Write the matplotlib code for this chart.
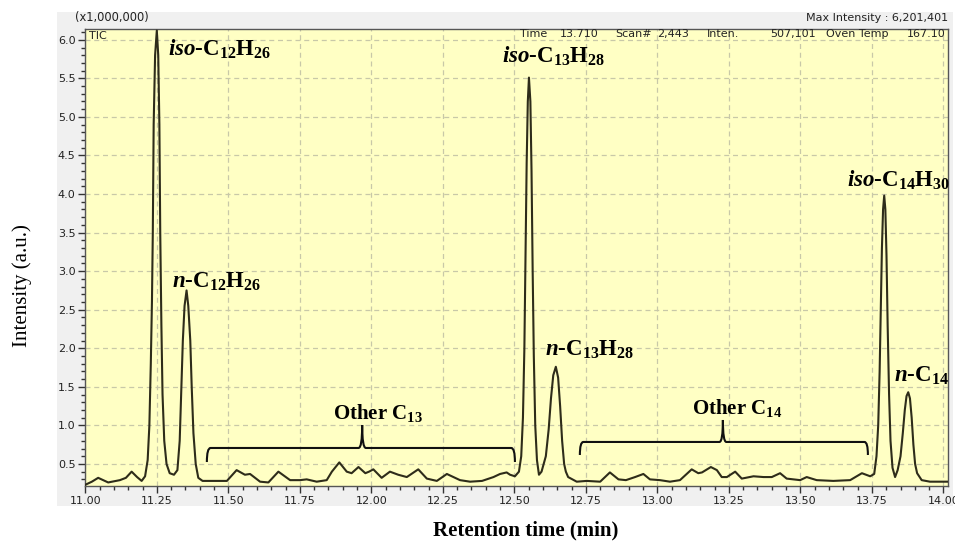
import matplotlib
matplotlib.use("Agg")
import matplotlib.pyplot as plt
from matplotlib.path import Path
from matplotlib.patches import PathPatch, Rectangle
from matplotlib.ticker import MultipleLocator, FixedLocator, FixedFormatter

plt.rcParams['mathtext.fontset'] = 'custom'
plt.rcParams['mathtext.rm'] = 'Liberation Serif:bold'
plt.rcParams['mathtext.bf'] = 'Liberation Serif:bold'
plt.rcParams['mathtext.it'] = 'Liberation Serif:italic:bold'

# ---- data (retention time in min, intensity x1e6) ----
time = [11.000, 11.023, 11.045, 11.080, 11.121, 11.142, 11.162, 11.181, 11.197, 11.209,
        11.218, 11.224, 11.229, 11.233, 11.236, 11.239, 11.244, 11.250, 11.255, 11.259,
        11.262, 11.266, 11.270, 11.276, 11.284, 11.295, 11.310, 11.322,
        11.330, 11.336, 11.341, 11.347, 11.354, 11.360, 11.367, 11.372, 11.378, 11.386,
        11.395, 11.410, 11.453, 11.495, 11.529, 11.558, 11.576, 11.611, 11.640, 11.675,
        11.716, 11.751, 11.774, 11.809, 11.844, 11.862, 11.888, 11.914, 11.931, 11.955,
        11.979, 11.992, 12.007, 12.036, 12.065, 12.094, 12.124, 12.164, 12.194, 12.229,
        12.264, 12.310, 12.345, 12.387, 12.427, 12.450, 12.473, 12.485, 12.502, 12.516,
        12.524, 12.530, 12.535, 12.539, 12.543, 12.547, 12.551, 12.556, 12.560, 12.564,
        12.568, 12.573, 12.579, 12.586, 12.595,
        12.610, 12.620, 12.628, 12.636, 12.645, 12.653, 12.660, 12.667, 12.674, 12.680,
        12.688, 12.718, 12.753, 12.800, 12.834, 12.864, 12.890, 12.922, 12.951, 12.974,
        13.009, 13.044, 13.079, 13.120, 13.143, 13.156, 13.187, 13.208, 13.225, 13.243,
        13.272, 13.295, 13.336, 13.371, 13.400, 13.429, 13.452, 13.499, 13.522, 13.557,
        13.615, 13.674, 13.715, 13.744, 13.758,
        13.766, 13.772, 13.777, 13.781, 13.785, 13.789, 13.793, 13.797, 13.801, 13.805,
        13.810, 13.815, 13.822, 13.831, 13.840,
        13.850, 13.858, 13.865, 13.871, 13.877, 13.883, 13.889, 13.895, 13.901, 13.908,
        13.924, 13.953, 14.016]
intensity = [0.23, 0.27, 0.32, 0.26, 0.29, 0.32, 0.40, 0.33, 0.28, 0.34,
             0.55, 1.00, 1.80, 2.60, 3.50, 4.90, 5.80, 6.12, 5.80, 4.90,
             3.50, 2.30, 1.40, 0.80, 0.50, 0.38, 0.36, 0.42,
             0.80, 1.50, 2.10, 2.55, 2.75, 2.55, 2.10, 1.50, 0.90, 0.50,
             0.32, 0.28, 0.28, 0.28, 0.42, 0.36, 0.37, 0.27, 0.26, 0.40,
             0.29, 0.29, 0.30, 0.27, 0.29, 0.40, 0.52, 0.40, 0.38, 0.46,
             0.38, 0.40, 0.43, 0.32, 0.40, 0.36, 0.33, 0.43, 0.31, 0.28,
             0.37, 0.29, 0.27, 0.28, 0.33, 0.37, 0.39, 0.36, 0.34, 0.40,
             0.60, 1.10, 2.00, 3.20, 4.40, 5.20, 5.51, 5.20, 4.30, 3.00,
             1.90, 1.00, 0.55, 0.36, 0.40,
             0.60, 0.95, 1.35, 1.65, 1.76, 1.62, 1.25, 0.80, 0.50, 0.40,
             0.33, 0.27, 0.28, 0.27, 0.39, 0.30, 0.29, 0.33, 0.37, 0.30,
             0.29, 0.27, 0.29, 0.43, 0.38, 0.39, 0.46, 0.42, 0.33, 0.33,
             0.40, 0.31, 0.34, 0.33, 0.33, 0.38, 0.31, 0.29, 0.33, 0.29,
             0.28, 0.29, 0.38, 0.34, 0.37,
             0.60, 1.00, 1.70, 2.50, 3.30, 3.80, 3.98, 3.80, 3.20, 2.30,
             1.40, 0.80, 0.45, 0.33, 0.42,
             0.60, 0.90, 1.20, 1.38, 1.43, 1.35, 1.10, 0.75, 0.50, 0.38,
             0.29, 0.27, 0.27]

x_ticks = [11.00, 11.25, 11.50, 11.75, 12.00, 12.25, 12.50, 12.75, 13.00, 13.25, 13.50, 13.75, 14.00]
x_tick_labels = ["11.00", "11.25", "11.50", "11.75", "12.00", "12.25", "12.50",
                 "12.75", "13.00", "13.25", "13.50", "13.75", "14.00"]
y_ticks = [0.5, 1.0, 1.5, 2.0, 2.5, 3.0, 3.5, 4.0, 4.5, 5.0, 5.5, 6.0]
y_tick_labels = ["0.5", "1.0", "1.5", "2.0", "2.5", "3.0", "3.5", "4.0", "4.5", "5.0", "5.5", "6.0"]

peak_labels = [r"$\mathit{iso}$-C$_{12}$H$_{26}$", r"$\mathit{n}$-C$_{12}$H$_{26}$",
               r"$\mathit{iso}$-C$_{13}$H$_{28}$", r"$\mathit{n}$-C$_{13}$H$_{28}$",
               r"$\mathit{iso}$-C$_{14}$H$_{30}$", r"$\mathit{n}$-C$_{14}$"]
peak_label_pos = [(11.290, 5.87), (11.303, 2.86), (12.457, 5.78),
                  (12.607, 1.98), (13.662, 4.18), (13.826, 1.64)]
group_labels = [r"Other C$_{13}$", r"Other C$_{14}$"]
# bracket: (x_start, x_end, y_bar, y_hook, x_cusp, y_cusp)
group_brackets = [(11.425, 12.502, 0.707, 0.525, 11.968, 1.005),
                  (12.729, 13.736, 0.785, 0.616, 13.229, 1.07)]

# header items of the instrument readout: (pixel x, alignment, text)
header_items = [(520, "left", "Time"), (560, "left", "13.710"), (615, "left", "Scan#"),
                (657, "left", "2,443"), (707, "left", "Inten."), (816, "right", "507,101"),
                (826, "left", "Oven Temp"), (946, "right", "167.10")]

W, H = 955, 543
fig = plt.figure(figsize=(W / 100, H / 100), dpi=100)
fig.patch.set_facecolor("white")

# gray instrument panel behind the plot
fig.patches.append(Rectangle((57 / W, 1 - 506 / H), (953 - 57) / W, (506 - 12) / H,
                             transform=fig.transFigure, facecolor="#f0f0f0",
                             edgecolor="none", zorder=-5))

ax = fig.add_axes([85.3 / W, 1 - 486 / H, (948 - 85.3) / W, (486 - 29) / H])
ax.set_zorder(2)
ax.set_facecolor("#ffffc4")
ax.plot(time, intensity, color="#2e2c1a", lw=1.5, zorder=3)

ax.set_xlim(11.0, 14.016)
ax.set_ylim(0.214, 6.14)

ax.xaxis.set_major_locator(FixedLocator(x_ticks))
ax.xaxis.set_major_formatter(FixedFormatter(x_tick_labels))
ax.xaxis.set_minor_locator(MultipleLocator(0.05))
ax.yaxis.set_major_locator(FixedLocator(y_ticks))
ax.yaxis.set_major_formatter(FixedFormatter(y_tick_labels))
ax.yaxis.set_minor_locator(MultipleLocator(0.1))
ax.tick_params(axis="both", which="major", direction="out", length=5, width=1,
               color="#333333", labelsize=8, labelcolor="#222222", pad=2)
ax.tick_params(axis="both", which="minor", direction="out", length=3, width=1,
               color="#333333")
ax.grid(True, which="major", color="#c8c8a8", linestyle=(0, (4, 3)), lw=0.9)
ax.set_axisbelow(True)
for s in ax.spines.values():
    s.set_color("#555555")
    s.set_linewidth(1.0)

# header texts
ax.text(0.004, 0.996, "TIC", transform=ax.transAxes, fontsize=8, va="top", ha="left",
        color="#222222")
fig.text(75 / W, 1 - 18 / H, "(x1,000,000)", fontsize=8.3, va="center", ha="left",
         color="#222222")
fig.text(948 / W, 1 - 18 / H, "Max Intensity : 6,201,401", fontsize=8, va="center",
         ha="right", color="#222222")
for hx, hal, htxt in header_items:
    fig.text(hx / W, 1 - 34 / H, htxt, fontsize=8, va="center", ha=hal,
             color="#222222", zorder=10)

# peak labels
for lab, (px, py) in zip(peak_labels, peak_label_pos):
    ax.text(px, py, lab, fontsize=16.5, fontweight="bold", family="Liberation Serif",
            ha="left", va="center", color="black", zorder=5)

# group brackets and labels
for lab, (x0, x1, yb, yh, xc, yc) in zip(group_labels, group_brackets):
    dx = (x1 - x0) * 0.012
    verts = [(x0, yh), (x0, yb), (x0 + dx, yb),
             (xc - dx, yb), (xc, yb), (xc, yc),
             (xc, yb), (xc + dx, yb),
             (x1 - dx, yb), (x1, yb), (x1, yh)]
    codes = [Path.MOVETO, Path.CURVE3, Path.CURVE3,
             Path.LINETO, Path.CURVE3, Path.CURVE3,
             Path.CURVE3, Path.CURVE3,
             Path.LINETO, Path.CURVE3, Path.CURVE3]
    ax.add_patch(PathPatch(Path(verts, codes), facecolor="none", edgecolor="#111111",
                           lw=1.5, zorder=5))
    ax.text(xc + (x1 - x0) * 0.05, yc + 0.16, lab, fontsize=15, fontweight="bold",
            family="Liberation Serif", ha="center", va="center", color="black", zorder=5)

fig.text(22 / W, 1 - 286 / H, "Intensity (a.u.)", rotation=90, fontsize=15,
         family="Liberation Serif", ha="center", va="center")
fig.text(526 / W, 1 - 530 / H, "Retention time (min)", fontsize=15, fontweight="bold",
         family="Liberation Serif", ha="center", va="center")

fig.savefig("out.png", dpi=100)
